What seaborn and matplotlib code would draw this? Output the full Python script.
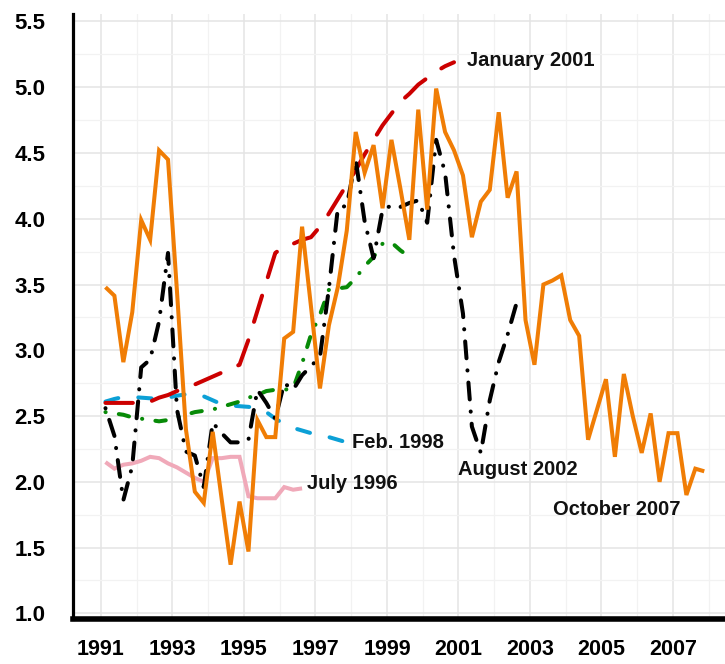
import numpy as np
import pandas as pd
import seaborn as sns
import matplotlib.pyplot as plt
from matplotlib.markers import MarkerStyle
import matplotlib.lines as mlines
from matplotlib.ticker import MultipleLocator

# forecast vintages, quarterly values starting 1991 Q1
july_1996 = [2.15, 2.10, 2.13, 2.14, 2.16, 2.19, 2.18, 2.14, 2.11, 2.07, 2.03, 2.00,
             2.18, 2.18, 2.19, 2.19, 1.89, 1.875, 1.875, 1.875, 1.96, 1.94, 1.95]

feb_1998 = [2.61, 2.63, 2.645, 2.645, 2.64, 2.635, 2.63, 2.64, 2.655, 2.665, 2.67, 2.65,
            2.62, 2.59, 2.58, 2.575, 2.57, 2.56, 2.53, 2.48, 2.44, 2.41, 2.39, 2.37,
            2.36, 2.34, 2.32, 2.30]

green_vintage = [2.53, 2.52, 2.51, 2.49, 2.48, 2.47, 2.46, 2.47, 2.49, 2.51, 2.53, 2.54,
                 2.55, 2.57, 2.59, 2.61, 2.64, 2.66, 2.69, 2.70, 2.70, 2.71, 2.90, 3.12,
                 3.27, 3.46, 3.47, 3.48, 3.55, 3.64, 3.71, 3.81, 3.82, 3.76, 3.71]

jan_2001 = [2.60, 2.60, 2.60, 2.60, 2.60, 2.61, 2.64, 2.66, 2.69, 2.72, 2.74, 2.77,
            2.80, 2.83, 2.86, 2.89, 3.08, 3.30, 3.52, 3.74, 3.79, 3.81, 3.84, 3.86,
            3.94, 4.04, 4.15, 4.26, 4.37, 4.49, 4.60, 4.71, 4.80, 4.89, 4.95, 5.02,
            5.07, 5.12, 5.16, 5.19]

aug_2002 = [2.56, 2.35, 1.86, 2.12, 2.87, 2.93, 3.22, 3.74, 2.55, 2.23, 2.20, 1.96,
            2.45, 2.37, 2.30, 2.30, 2.32, 2.70, 2.60, 2.48, 2.75, 2.70, 2.81, 2.88,
            2.95, 3.47, 4.08, 4.10, 4.45, 3.98, 3.70, 4.07, 4.10, 4.09, 4.12, 4.14,
            3.97, 4.60, 4.35, 3.72, 3.28, 2.42, 2.22, 2.62, 2.91, 3.12, 3.36]

oct_2007 = [3.48, 3.415, 2.91, 3.29, 3.99, 3.84, 4.52, 4.45, 3.45, 2.40, 1.925, 1.84,
            2.38, 1.87, 1.37, 1.85, 1.47, 2.47, 2.34, 2.34, 3.09, 3.14, 3.94, 3.33,
            2.71, 3.19, 3.48, 3.91, 4.66, 4.35, 4.56, 4.08, 4.60, 4.23, 3.84, 4.83,
            4.07, 4.99, 4.66, 4.52, 4.33, 3.86, 4.13, 4.22, 4.81, 4.16, 4.36, 3.23,
            2.89, 3.50, 3.53, 3.57, 3.23, 3.11, 2.32, 2.55, 2.78, 2.19, 2.82, 2.50,
            2.22, 2.52, 2.00, 2.37, 2.37, 1.90, 2.10, 2.08]

labels = {
    "July 1996": (1996.76, 1.99),
    "Feb. 1998": (1998.02, 2.30),
    "January 2001": (2001.24, 5.20),
    "August 2002": (2000.99, 2.09),
    "October 2007": (2003.64, 1.79),
}

x_ticks = [1991, 1993, 1995, 1997, 1999, 2001, 2003, 2005, 2007]
y_ticks = [1.0, 1.5, 2.0, 2.5, 3.0, 3.5, 4.0, 4.5, 5.0, 5.5]


def quarterly(values):
    # mid-quarter positions, 1991 Q1 onwards
    q = np.arange(len(values))
    return pd.DataFrame({"year": 1991 + (q + 0.5) / 4, "value": values})


sns.set_style("white")
plt.rcParams["font.family"] = ["Liberation Sans", "DejaVu Sans"]

fig = plt.figure(figsize=(7.25, 6.64), dpi=100)
ax = fig.add_axes([73 / 725, 1 - 619 / 664, 1 - 73 / 725, (619 - 14) / 664])

series = [
    (july_1996, "#F0A9B9", "-"),
    (feb_1998, "#0CA0D6", (0, (3.3, 5.0))),
    (jan_2001, "#CC0000", (0, (6.8, 4.8))),
    (green_vintage, "#078A07", (0, (0.05, 3.3, 2.6, 3.3))),
    (aug_2002, "black", (0, (0.05, 3.0, 4.2, 3.0))),
    (oct_2007, "#F07D05", "-"),
]

for vals, col, ls in series:
    sns.lineplot(data=quarterly(vals), x="year", y="value", ax=ax, color=col,
                 linestyle=ls, linewidth=2.9, dash_capstyle="round",
                 solid_joinstyle="miter", solid_capstyle="butt")

for txt, (xt, yt) in labels.items():
    ax.text(xt, yt, txt, ha="left", va="center", fontsize=14.5,
            fontweight="bold", color="#111111")

ax.set_xlim(1990.217, 2008.455)
ax.set_ylim(0.957, 5.557)
ax.set_xticks(x_ticks)
ax.set_yticks(y_ticks)
ax.set_xticklabels([str(v) for v in x_ticks])
ax.set_yticklabels([f"{v:.1f}" for v in y_ticks])
ax.xaxis.set_minor_locator(MultipleLocator(1))
ax.yaxis.set_minor_locator(MultipleLocator(0.25))
ax.set_xlabel("")
ax.set_ylabel("")

ax.grid(which="major", color="#E4E4E4", linewidth=1.1)
ax.grid(which="minor", color="#F2F2F2", linewidth=0.9)
ax.set_axisbelow(True)

for side in ["top", "right"]:
    ax.spines[side].set_visible(False)
ax.spines["left"].set_linewidth(2.3)
ax.spines["bottom"].set_linewidth(4.0)
ax.spines["left"].set_color("black")
ax.spines["bottom"].set_color("black")

ax.tick_params(axis="x", which="major", length=9, width=3.6, pad=5.5, colors="black")
ax.tick_params(axis="y", which="major", length=8, width=4.0, pad=12, colors="black")
ax.tick_params(which="minor", length=0)
for lab in ax.get_yticklabels():
    lab.set_fontsize(16)
    lab.set_fontweight("bold")
for lab in ax.get_xticklabels():
    lab.set_fontsize(15.5)
    lab.set_fontweight("bold")

# rounded tick ends
for tick in ax.xaxis.get_major_ticks():
    tick.tick1line.set_marker(MarkerStyle(mlines.TICKDOWN, capstyle="round"))
for tick in ax.yaxis.get_major_ticks():
    tick.tick1line.set_marker(MarkerStyle(mlines.TICKLEFT, capstyle="round"))

fig.savefig("out.png", dpi=100)
